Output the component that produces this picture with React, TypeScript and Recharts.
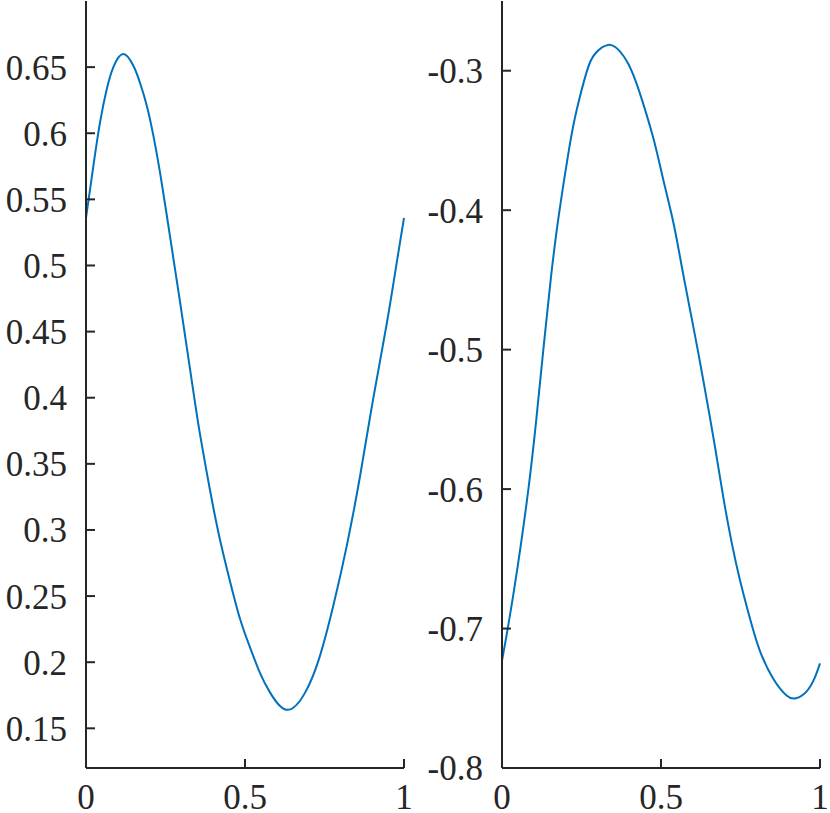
import React from 'react';
import { LineChart, Line, XAxis, YAxis } from 'recharts';

// left panel
const leftX = [0, 0.023, 0.044, 0.065, 0.086, 0.117, 0.149, 0.17, 0.191, 0.212, 0.233, 0.254, 0.275, 0.296, 0.317, 0.338, 0.358, 0.39, 0.421, 0.453, 0.484, 0.516, 0.547, 0.579, 0.631, 0.689, 0.736, 0.778, 0.82, 0.862, 0.903, 0.945, 0.977, 1];
const leftY = [0.536, 0.575, 0.608, 0.633, 0.65, 0.66, 0.651, 0.638, 0.621, 0.598, 0.57, 0.538, 0.505, 0.472, 0.438, 0.404, 0.373, 0.33, 0.293, 0.261, 0.233, 0.211, 0.192, 0.177, 0.164, 0.177, 0.205, 0.243, 0.288, 0.341, 0.399, 0.455, 0.502, 0.536];
const leftTicks = [0.15, 0.2, 0.25, 0.3, 0.35, 0.4, 0.45, 0.5, 0.55, 0.6, 0.65];

// right panel
const rightX = [0, 0.018, 0.049, 0.083, 0.107, 0.13, 0.154, 0.179, 0.211, 0.235, 0.266, 0.292, 0.334, 0.37, 0.397, 0.418, 0.439, 0.476, 0.507, 0.539, 0.565, 0.591, 0.617, 0.644, 0.67, 0.696, 0.722, 0.748, 0.78, 0.811, 0.853, 0.895, 0.924, 0.958, 0.984, 1];
const rightY = [-0.723, -0.7, -0.656, -0.6, -0.552, -0.5, -0.448, -0.403, -0.356, -0.328, -0.301, -0.288, -0.2815, -0.286, -0.295, -0.306, -0.32, -0.3485, -0.378, -0.409, -0.44, -0.471, -0.502, -0.536, -0.57, -0.606, -0.638, -0.665, -0.693, -0.716, -0.736, -0.748, -0.75, -0.745, -0.735, -0.725];
const rightTicks = [-0.8, -0.7, -0.6, -0.5, -0.4, -0.3];

const xTicks = [0, 0.5, 1];

const INK = '#262626';
const BLUE = '#0072BD';
const tickStyle = { fontFamily: '"Liberation Serif", "Times New Roman", serif', fontSize: 35, fill: INK };

const fmt = (v: number) => String(Number(v.toFixed(2)));

interface PanelProps {
    xs: number[];
    ys: number[];
    domain: [number, number];
    ticks: number[];
    yWidth: number;
    right: number;
}

const Panel: React.FC<PanelProps> = ({ xs, ys, domain, ticks, yWidth, right }) => {
    const data = xs.map((x, i) => ({ x, y: ys[i] }));
    return (
        <LineChart width={415} height={813} data={data} margin={{ top: 1, right, left: 0, bottom: 0 }}>
            <XAxis
                type="number"
                dataKey="x"
                domain={[0, 1]}
                ticks={xTicks}
                interval={0}
                tickFormatter={fmt}
                height={45}
                tickSize={-9}
                tickMargin={25}
                stroke={INK}
                strokeWidth={2}
                tick={tickStyle}
            />
            <YAxis
                type="number"
                domain={domain}
                ticks={ticks}
                interval={0}
                tickFormatter={fmt}
                width={yWidth}
                tickSize={-9}
                tickMargin={28}
                stroke={INK}
                strokeWidth={2}
                tick={tickStyle}
                allowDataOverflow
            />
            <Line
                type="natural"
                dataKey="y"
                stroke={BLUE}
                strokeWidth={2}
                dot={false}
                isAnimationActive={false}
            />
        </LineChart>
    );
};

export default function App() {
    return (
        <div style={{ position: 'absolute', top: 0, left: 0, width: 830, height: 813, display: 'flex', background: '#fff' }}>
            <Panel xs={leftX} ys={leftY} domain={[0.12, 0.7]} ticks={leftTicks} yWidth={86} right={11} />
            <Panel xs={rightX} ys={rightY} domain={[-0.8, -0.25]} ticks={rightTicks} yWidth={87} right={10} />
        </div>
    );
}
